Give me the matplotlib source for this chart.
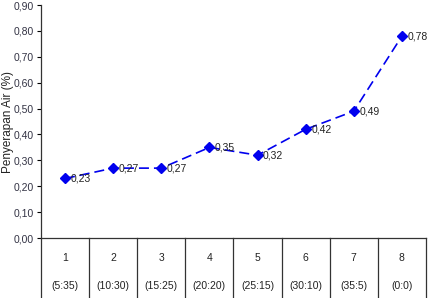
import matplotlib
matplotlib.use("Agg")
import matplotlib.pyplot as plt

categories = ["1", "2", "3", "4", "5", "6", "7", "8"]
ratios = ["(5:35)", "(10:30)", "(15:25)", "(20:20)", "(25:15)", "(30:10)", "(35:5)", "(0:0)"]
values = [0.23, 0.27, 0.27, 0.35, 0.32, 0.42, 0.49, 0.78]
value_labels = ["0,23", "0,27", "0,27", "0,35", "0,32", "0,42", "0,49", "0,78"]
yticks = [0.0, 0.1, 0.2, 0.3, 0.4, 0.5, 0.6, 0.7, 0.8, 0.9]
ytick_labels = ["0,00", "0,10", "0,20", "0,30", "0,40", "0,50", "0,60", "0,70", "0,80", "0,90"]

plt.rcParams['font.family'] = ['Liberation Sans Narrow', 'Liberation Sans', 'DejaVu Sans']

fig = plt.figure(figsize=(4.31, 2.98), dpi=100)
ax = fig.add_axes([0.0951, 0.2013, 0.8933, 0.7817])

x = list(range(1, len(values) + 1))
ax.plot(x, values, color='#0000ee', linestyle=(0, (6, 3)), linewidth=1.2,
        marker='D', markersize=5, markerfacecolor='#0000ee', markeredgecolor='#0000ee')
for xi, v, lab in zip(x, values, value_labels):
    ax.annotate(lab, (xi, v), xytext=(4, 0), textcoords='offset points',
                fontsize=7.5, color='#222222', va='center', ha='left')

ax.set_xlim(0.5, len(values) + 0.5)
ax.set_ylim(0, 0.9)
ax.set_yticks(yticks)
ax.set_yticklabels(ytick_labels, fontsize=7.5, color='#333344')
ax.tick_params(axis='y', length=3, width=0.8, pad=2)
ax.set_xticks([])
for s in ['top', 'right']:
    ax.spines[s].set_visible(False)
ax.spines['left'].set_color('#333333')
ax.spines['bottom'].set_color('#333333')
ax.spines['left'].set_linewidth(0.9)
ax.spines['bottom'].set_linewidth(0.9)

# table-like category area under the axis
trans = ax.get_xaxis_transform()
bottom = -0.26
for b in [i + 0.5 for i in range(len(values) + 1)]:
    ax.plot([b, b], [0, bottom], transform=trans, color='#333333', linewidth=0.9, clip_on=False)
for xi, c, r in zip(x, categories, ratios):
    ax.text(xi, -0.085, c, transform=trans, ha='center', va='center', fontsize=7.5, color='#222222')
    ax.text(xi, -0.205, r, transform=trans, ha='center', va='center', fontsize=7.5, color='#222222')

ax.set_ylabel("Penyerapan Air (%)", fontsize=8.5, color='#222222')
ax.yaxis.set_label_coords(-0.07, 0.5)

fig.savefig("out.png", dpi=100)
